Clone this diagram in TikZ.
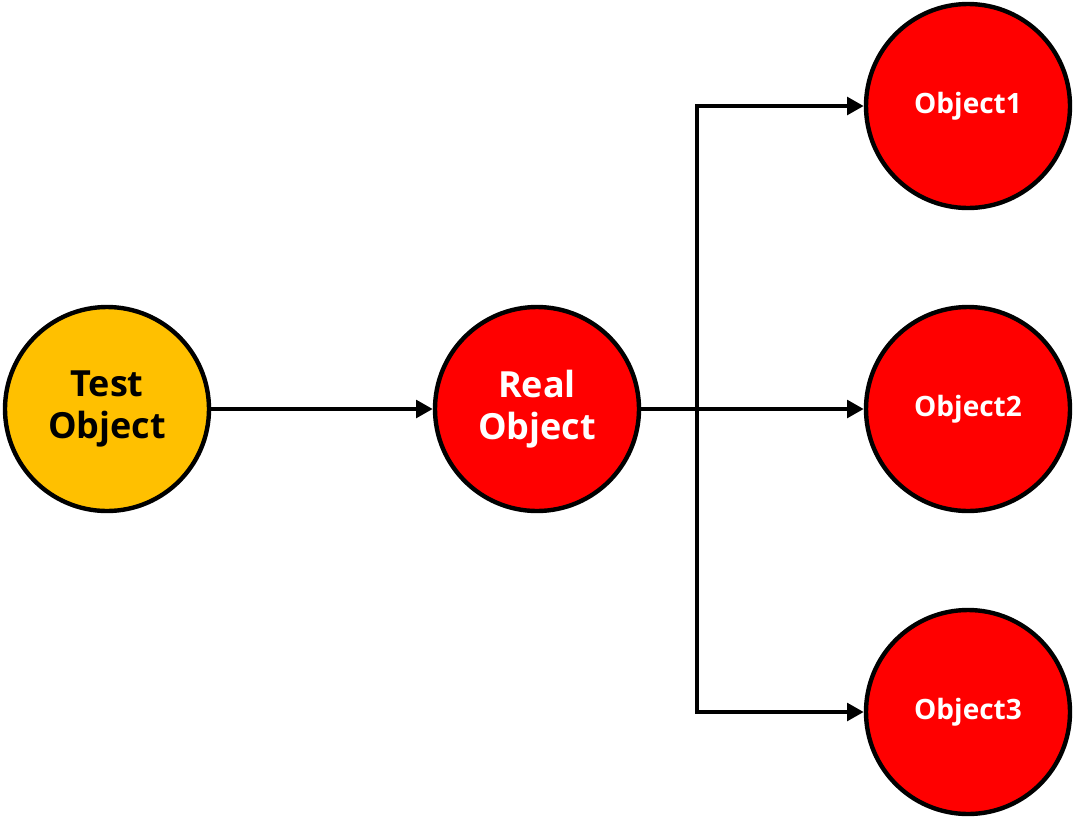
\documentclass[tikz,border=0pt]{standalone}
\usepackage{fontspec}
\setmainfont{Open Sans}
\usepackage{tikz}
\usetikzlibrary{arrows.meta}
\definecolor{objyellow}{RGB}{255,192,0}
\definecolor{objred}{RGB}{255,0,0}
\tikzset{
	obj/.style={circle, draw=black, line width=3.3pt, minimum size=153pt, inner sep=0pt, align=center, font=\bfseries\fontsize{27}{32}\selectfont},
	subobj/.style={obj, fill=objred, text=white, font=\bfseries\fontsize{21}{26}\selectfont},
	link/.style={line width=3.6pt, -{Triangle[length=12.5pt, width=13pt]}}
}
\begin{document}
\begin{tikzpicture}[x=0.75pt, y=-0.75pt]
		\useasboundingbox (0,0) rectangle (1074,818);
		\node[obj, fill=objyellow, text=black] (test) at (107,409) {Test\\Object};
		\node[obj, fill=objred, text=white] (real) at (537,409) {Real\\Object};
		\node[subobj] (obj1) at (968,106) {Object1};
		\node[subobj] (obj2) at (968,409) {Object2};
		\node[subobj] (obj3) at (968,712) {Object3};
		\coordinate (split) at (697,409);
		\draw[link] (test) -- (real);
		\draw[line width=3.6pt] (real) -- (split);
		%	branches
		\draw[link] (split) |- (obj1);
		\draw[link] (split) -- (obj2);
		\draw[link] (split) |- (obj3);
\end{tikzpicture}
\end{document}
